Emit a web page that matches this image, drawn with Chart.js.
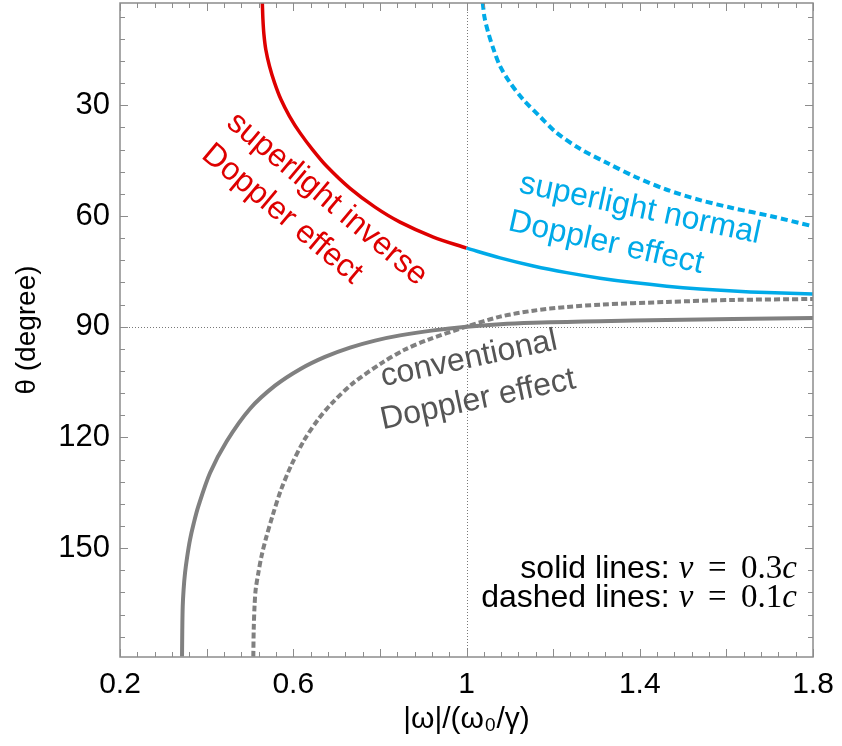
<!DOCTYPE html>
<html><head><meta charset="utf-8">
<script src="https://cdn.jsdelivr.net/npm/chart.js@4.4.1/dist/chart.umd.min.js"></script>
<style>html,body{margin:0;padding:0;background:#fff}#wrap{width:842px;height:746px}</style>
</head><body><div id="wrap"><canvas id="c" width="842" height="746"></canvas></div>
<script>
// ---- tick labels ----
const xTickLabels = [0.2, 0.6, 1, 1.4, 1.8];
const yTickLabels = [30, 60, 90, 120, 150];

// ---- superlight inverse Doppler effect, v = 0.3c (red solid) ----
const invX = [0.5286, 0.5300, 0.5323, 0.5366, 0.5452, 0.5567, 0.5717, 0.5914, 0.6156, 0.6445, 0.6773, 0.7311, 0.7888, 0.8465, 0.9234, 1.0];
const invY = [2.25, 6.78, 10.84, 14.9, 19.44, 23.86, 28.47, 32.99, 37.49, 42.02, 46.55, 52.54, 57.61, 61.67, 65.71, 68.72];

// ---- superlight normal Doppler effect, v = 0.3c (blue solid) ----
const normX = [1.0, 1.0774, 1.1543, 1.2314, 1.3083, 1.3852, 1.4623, 1.5393, 1.6161, 1.6932, 1.8];
const normY = [68.72, 71.35, 73.55, 75.36, 76.85, 78.05, 79.02, 79.78, 80.35, 80.76, 81.16];

// ---- superlight normal Doppler effect, v = 0.1c (blue dashed) ----
const norm01X = [1.0375, 1.0416, 1.0504, 1.0635, 1.0774, 1.1005, 1.1312, 1.1698, 1.2083, 1.2621, 1.3238, 1.3914, 1.4623, 1.5393, 1.6161, 1.7009, 1.8];
const norm01Y = [2.25, 6.2, 10.4, 15.2, 19.4, 23.9, 28.5, 33.1, 37.5, 41.8, 45.6, 49.5, 52.9, 55.7, 57.9, 60.0, 62.8];

// ---- conventional Doppler effect, v = 0.3c (gray solid) ----
const convX = [0.3432, 0.3438, 0.3448, 0.3468, 0.3501, 0.3552, 0.3616, 0.3704, 0.3808, 0.4078, 0.4464, 0.5002, 0.5579, 0.6156, 0.6733, 0.7311, 0.7888, 0.8465, 0.9234, 1.0, 1.0774, 1.1543, 1.2314, 1.3083, 1.4623, 1.6161, 1.8];
const convY = [179.37, 172.14, 165.82, 161.29, 156.77, 152.27, 147.74, 143.21, 138.71, 129.66, 121.04, 112.23, 105.99, 101.52, 98.19, 95.67, 93.77, 92.36, 91.0, 90.0, 89.32, 88.92, 88.7, 88.54, 88.18, 87.91, 87.64];

// ---- conventional Doppler effect, v = 0.1c (gray dashed) ----
const conv01X = [0.5078, 0.5087, 0.5106, 0.5132, 0.5193, 0.5265, 0.5362, 0.5528, 0.5717, 0.5960, 0.6260, 0.6571, 0.6895, 0.7382, 0.8049, 0.8580, 0.9125, 1.0, 1.0774, 1.1543, 1.2314, 1.3083, 1.4623, 1.6161, 1.8];
const conv01Y = [179.4, 172.1, 165.8, 161.3, 156.8, 152.3, 147.7, 141.0, 134.2, 127.4, 120.6, 115.2, 110.7, 105.3, 99.8, 96.2, 93.5, 90.0, 87.29, 85.66, 84.66, 84.04, 83.3, 82.76, 82.49];

const SANS = '"Liberation Sans", Arial, Helvetica, sans-serif';
const SERIF = '"Liberation Serif", "DejaVu Serif", serif';

function pts(xs, ys) { return xs.map((x, i) => ({x: x, y: ys[i]})); }

const RED = 'rgb(222,0,0)';
const BLUE = 'rgb(0,170,232)';
const GRAY = 'rgb(128,128,128)';

const decor = {
  id: 'decor',
  beforeDatasetsDraw(chart) {
    const {ctx, chartArea: a, scales: {x, y}} = chart;
    ctx.save();
    ctx.strokeStyle = 'rgb(120,120,120)';
    ctx.lineWidth = 1;
    ctx.setLineDash([1, 2]);
    const px = Math.round(x.getPixelForValue(1)) + 0.5;
    ctx.beginPath(); ctx.moveTo(px, a.top); ctx.lineTo(px, a.bottom); ctx.stroke();
    const py = Math.round(y.getPixelForValue(90)) + 0.5;
    ctx.beginPath(); ctx.moveTo(a.left, py); ctx.lineTo(a.right, py); ctx.stroke();
    ctx.restore();
  },
  afterDatasetsDraw(chart) {
    const {ctx, chartArea: a, scales: {x, y}} = chart;
    ctx.save();
    // frame
    ctx.strokeStyle = 'rgb(140,140,140)';
    ctx.lineWidth = 1.5;
    ctx.strokeRect(a.left, a.top, a.right - a.left, a.bottom - a.top);
    ctx.lineWidth = 1;
    // x ticks (inward, top & bottom)
    for (let i = 0; i <= 40; i++) {
      const v = 0.2 + i * 0.04;
      const p = Math.round(x.getPixelForValue(v)) + 0.5;
      const len = (i % 5 === 0) ? 8 : 5;
      ctx.beginPath();
      ctx.moveTo(p, a.bottom); ctx.lineTo(p, a.bottom - len);
      ctx.moveTo(p, a.top); ctx.lineTo(p, a.top + len);
      ctx.stroke();
    }
    // y ticks (inward, left & right)
    for (let v = 6; v <= 178; v += 6) {
      const p = Math.round(y.getPixelForValue(v)) + 0.5;
      const len = (v % 30 === 0) ? 8 : 5;
      ctx.beginPath();
      ctx.moveTo(a.left, p); ctx.lineTo(a.left + len, p);
      ctx.moveTo(a.right, p); ctx.lineTo(a.right - len, p);
      ctx.stroke();
    }
    // rotated annotations
    function rot(text, cx, cy, deg, color, size) {
      ctx.save();
      ctx.translate(cx, cy);
      ctx.rotate(deg * Math.PI / 180);
      ctx.font = size + 'px ' + SANS;
      ctx.fillStyle = color;
      ctx.textAlign = 'center';
      ctx.textBaseline = 'middle';
      ctx.fillText(text, 0, 0);
      ctx.restore();
    }
    rot('superlight inverse', 327, 199, 40, RED, 32);
    rot('Doppler effect', 282, 214, 40, RED, 32);
    rot('superlight normal', 640, 209, 12, BLUE, 32);
    rot('Doppler effect', 606, 243, 12.5, BLUE, 32);
    rot('conventional', 469, 359, -12, 'rgb(85,85,85)', 32);
    rot('Doppler effect', 478, 400, -12, 'rgb(85,85,85)', 32);

    // speed note (right aligned)
    function note(label, num, baseY) {
      const segs = [
        {t: label, f: '32px ' + SANS},
        {t: 'v', f: 'italic 33px ' + SERIF},
        {t: '\u2009=\u2009', f: '33px ' + SERIF, pad: 8},
        {t: num, f: '33px ' + SERIF},
        {t: 'c', f: 'italic 33px ' + SERIF}
      ];
      let w = 0;
      segs.forEach(s => { ctx.font = s.f; s.w = ctx.measureText(s.t).width + (s.pad || 0) * 2; w += s.w; });
      let cx = 797 - w;
      ctx.fillStyle = '#000';
      ctx.textAlign = 'left';
      ctx.textBaseline = 'alphabetic';
      segs.forEach(s => { ctx.font = s.f; ctx.fillText(s.t, cx + (s.pad || 0), baseY); cx += s.w; });
    }
    note('solid lines: ', '0.3', 578);
    note('dashed lines: ', '0.1', 607);
    ctx.restore();
  }
};

const lineDs = (label, xs, ys, color, width, dash) => ({
  label: label, data: pts(xs, ys), showLine: true, borderColor: color, borderWidth: width,
  borderDash: dash || [], pointRadius: 0, tension: 0.3, fill: false
});

new Chart(document.getElementById('c'), {
  type: 'scatter',
  data: {
    datasets: [
      lineDs('conventional v=0.3c', convX, convY, GRAY, 4),
      lineDs('conventional v=0.1c', conv01X, conv01Y, GRAY, 4, [6, 3]),
      lineDs('superlight normal v=0.1c', norm01X, norm01Y, BLUE, 4, [7, 4]),
      lineDs('superlight normal v=0.3c', normX, normY, BLUE, 3.5),
      lineDs('superlight inverse v=0.3c', invX, invY, RED, 3.5)
    ]
  },
  options: {
    responsive: false,
    devicePixelRatio: 1,
    animation: false,
    layout: {padding: {top: 3, right: 29, left: 0, bottom: 0}},
    plugins: {legend: {display: false}, tooltip: {enabled: false}},
    scales: {
      x: {
        type: 'linear', min: 0.2, max: 1.8,
        afterBuildTicks: s => { s.ticks = xTickLabels.map(v => ({value: v})); },
        afterFit: s => { s.height = 89; s.paddingLeft = 0; s.paddingRight = 0; },
        grid: {display: false, drawTicks: false},
        border: {display: false},
        ticks: {color: '#000', font: {size: 30, family: SANS}, padding: 10, maxRotation: 0, autoSkip: false,
                callback: v => String(v)},
        title: {display: true, text: '|ω|/(ω₀/γ)', color: '#000', font: {size: 30, family: SANS}, padding: {top: 0, bottom: 8}}
      },
      y: {
        type: 'linear', reverse: true, min: 2.3, max: 179.5,
        afterBuildTicks: s => { s.ticks = yTickLabels.map(v => ({value: v})); },
        afterFit: s => { s.width = 120; s.paddingTop = 0; s.paddingBottom = 0; },
        grid: {display: false, drawTicks: false},
        border: {display: false},
        ticks: {color: '#000', font: {size: 31, family: SANS}, padding: 10, autoSkip: false},
        title: {display: true, text: 'θ (degree)', color: '#000', font: {size: 28, family: SANS}, padding: {top: 10, bottom: 0}}
      }
    }
  },
  plugins: [decor]
});
</script>
</body></html>
